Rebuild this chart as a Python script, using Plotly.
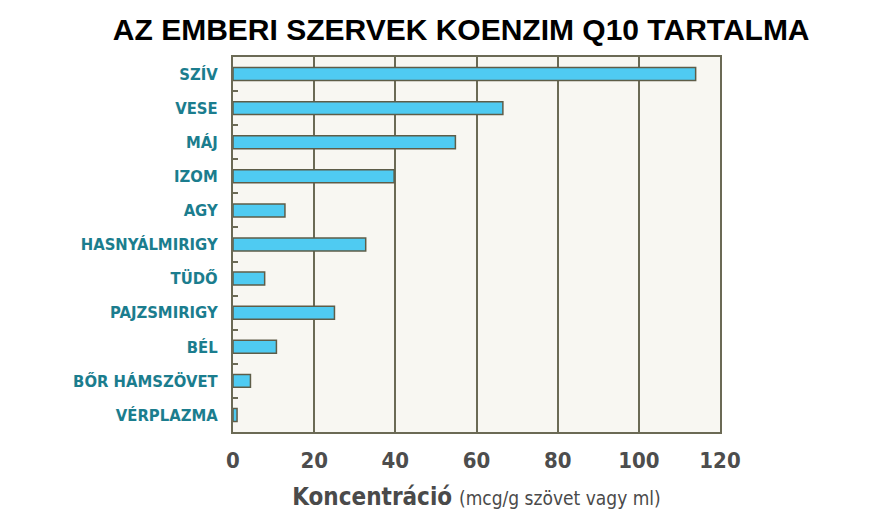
import plotly.graph_objects as go

# szervek és koenzim Q10 koncentráció (mcg/g)
szervek = ["SZÍV", "VESE", "MÁJ", "IZOM", "AGY", "HASNYÁLMIRIGY", "TÜDŐ",
           "PAJZSMIRIGY", "BÉL", "BŐR HÁMSZÖVET", "VÉRPLAZMA"]
ertekek = [114, 66.5, 54.8, 39.7, 12.8, 32.7, 7.8, 25.0, 10.7, 4.3, 1.0]
x_ticks = [0, 20, 40, 60, 80, 100, 120]

keret = "#6b6a55"

fig = go.Figure()
fig.add_trace(go.Bar(
    x=ertekek, y=szervek, orientation="h", width=0.38,
    marker=dict(color="#4fcbf2", line=dict(color="#5e5d48", width=1.5)),
))

fig.update_layout(
    width=880, height=530,
    margin=dict(l=225, r=168, t=49, b=106),
    paper_bgcolor="white", plot_bgcolor="#f8f7f2",
    showlegend=False,
    title=dict(text="<b>AZ EMBERI SZERVEK KOENZIM Q10 TARTALMA</b>",
               x=0.515, xanchor="center", y=0.96, yanchor="middle",
               font=dict(family="Liberation Sans", size=30, color="black")),
)
fig.update_xaxes(
    range=[0, 120], tickvals=x_ticks, showgrid=True, gridcolor=keret, gridwidth=2,
    showline=True, linecolor=keret, linewidth=2, mirror=True, zeroline=False,
    tickfont=dict(family="DejaVu Sans Condensed", size=22, color="#4d4d4d", weight="bold"),
    ticks="", ticklabelstandoff=8,
    title=dict(text="<b>Koncentráció</b> <span style='font-size:19px'>(mcg/g szövet vagy ml)</span>",
               font=dict(family="DejaVu Sans Condensed", size=24, color="#4a4a4a"),
               standoff=16),
)
fig.update_yaxes(
    autorange="reversed", showgrid=False, showline=True, linecolor=keret, linewidth=2,
    mirror=True, ticks="inside", tickson="boundaries", ticklen=5, tickcolor=keret,
    tickwidth=2, ticklabelstandoff=10,
    tickfont=dict(family="DejaVu Sans Condensed", size=16.5, color="#1b7d8e", weight="bold"),
)

fig.write_html("out.html")
